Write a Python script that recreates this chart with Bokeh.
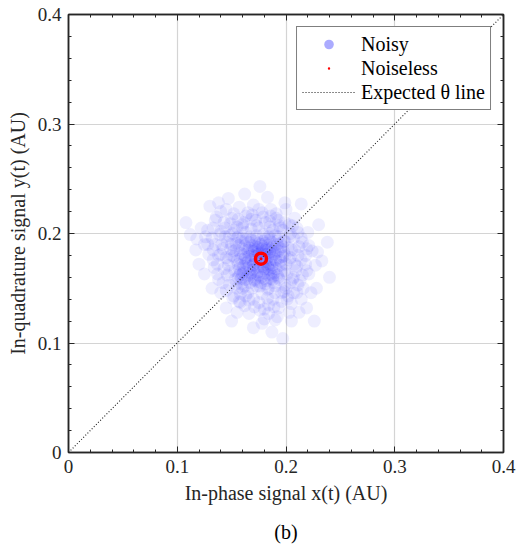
from bokeh.plotting import figure
from bokeh.models import (Range1d, FixedTicker, LinearAxis, Legend, LegendItem, Title)
from bokeh.embed import file_html
from bokeh.resources import INLINE

# ---- data ----
noisy_x = [0.177, 0.170, 0.184, 0.165, 0.190, 0.175, 0.181, 0.161, 0.194, 0.172,
           0.186, 0.168, 0.179, 0.163, 0.188, 0.174, 0.183, 0.158, 0.197, 0.171,
           0.180, 0.166, 0.192, 0.176, 0.160, 0.187, 0.169, 0.182, 0.173, 0.199,
           0.155, 0.185, 0.178, 0.164, 0.191, 0.170, 0.157, 0.195, 0.176, 0.162,
           0.189, 0.167, 0.183, 0.172, 0.153, 0.198, 0.179, 0.186, 0.159, 0.174,
           0.193, 0.165, 0.181, 0.169, 0.188, 0.156, 0.203, 0.177, 0.163, 0.184,
           0.171, 0.196, 0.150, 0.180, 0.167, 0.190, 0.158, 0.205, 0.174, 0.185,
           0.146, 0.152, 0.161, 0.173, 0.185, 0.197, 0.207, 0.211, 0.209, 0.204,
           0.196, 0.183, 0.170, 0.158, 0.148, 0.143, 0.140, 0.139, 0.150, 0.165,
           0.179, 0.193, 0.203, 0.215, 0.218, 0.213, 0.201, 0.189, 0.176, 0.162,
           0.151, 0.138, 0.133, 0.144, 0.157, 0.170, 0.186, 0.208, 0.220, 0.224,
           0.221, 0.210, 0.192, 0.180, 0.166, 0.145, 0.132, 0.128, 0.135, 0.199,
           0.155, 0.200, 0.147, 0.208, 0.160,
           0.122, 0.130, 0.147, 0.162, 0.183, 0.214, 0.230, 0.233, 0.228, 0.219,
           0.205, 0.187, 0.170, 0.150, 0.125, 0.117, 0.112, 0.238, 0.226, 0.197,
           0.140, 0.120, 0.240, 0.176, 0.108,
           0.175, 0.168, 0.182, 0.171, 0.186, 0.179, 0.164, 0.191, 0.160, 0.184,
           0.173, 0.187, 0.166, 0.178, 0.193, 0.162, 0.180, 0.169, 0.195, 0.176,
           0.183, 0.157, 0.189, 0.172, 0.167, 0.181, 0.198, 0.163, 0.185, 0.174,
           0.159, 0.192, 0.177, 0.170, 0.188, 0.165, 0.182, 0.154, 0.196, 0.173,
           0.180, 0.161, 0.190, 0.168, 0.184, 0.176, 0.158, 0.194, 0.171, 0.187,
           0.166, 0.179, 0.185, 0.162, 0.200, 0.174, 0.189, 0.156, 0.181, 0.169,
           0.193, 0.164, 0.178, 0.186, 0.172, 0.160, 0.197, 0.183, 0.167, 0.175,
           0.152, 0.190, 0.177, 0.163, 0.188, 0.171, 0.199, 0.158, 0.182, 0.169,
           0.185, 0.176, 0.154, 0.192, 0.166, 0.180, 0.173, 0.195, 0.161, 0.187,
           0.142, 0.148, 0.155, 0.168, 0.181, 0.194, 0.204, 0.212, 0.214, 0.207,
           0.199, 0.190, 0.178, 0.165, 0.154, 0.146, 0.137, 0.135, 0.143, 0.160,
           0.126, 0.133, 0.152, 0.175, 0.191, 0.210, 0.219, 0.216, 0.205, 0.184,
           0.157, 0.140, 0.129, 0.118, 0.138, 0.200, 0.227, 0.212, 0.178, 0.155,
           0.150, 0.145, 0.148, 0.155, 0.163, 0.175, 0.188, 0.198, 0.206, 0.210,
           0.208, 0.203, 0.195, 0.185, 0.172, 0.160, 0.151, 0.141, 0.137, 0.145,
           0.158, 0.171, 0.184, 0.196, 0.207, 0.215, 0.218, 0.214, 0.206, 0.191,
           0.178, 0.163, 0.149, 0.140, 0.133, 0.134, 0.142, 0.152, 0.166, 0.180,
           0.193, 0.202, 0.211, 0.219, 0.221, 0.211, 0.199, 0.186, 0.169, 0.156,
           0.144, 0.138, 0.147, 0.153, 0.162, 0.190, 0.201, 0.204, 0.199, 0.188,
           0.168, 0.156, 0.152, 0.159, 0.194, 0.202, 0.175, 0.157, 0.149, 0.183,
           0.128, 0.136, 0.145, 0.125, 0.132, 0.214, 0.203, 0.190, 0.223, 0.229]
noisy_y = [0.179, 0.172, 0.168, 0.185, 0.182, 0.162, 0.191, 0.170, 0.171, 0.188,
           0.176, 0.164, 0.170, 0.178, 0.161, 0.183, 0.185, 0.182, 0.179, 0.158,
           0.164, 0.192, 0.190, 0.174, 0.163, 0.169, 0.180, 0.157, 0.195, 0.166,
           0.175, 0.194, 0.186, 0.168, 0.175, 0.167, 0.189, 0.186, 0.152, 0.158,
           0.155, 0.197, 0.178, 0.176, 0.166, 0.193, 0.199, 0.163, 0.193, 0.169,
           0.160, 0.174, 0.172, 0.150, 0.188, 0.160, 0.176, 0.190, 0.201, 0.150,
           0.184, 0.171, 0.180, 0.181, 0.162, 0.198, 0.171, 0.185, 0.156, 0.183,
           0.192, 0.203, 0.210, 0.207, 0.206, 0.203, 0.196, 0.180, 0.166, 0.155,
           0.146, 0.141, 0.140, 0.145, 0.153, 0.168, 0.181, 0.199, 0.214, 0.219,
           0.215, 0.212, 0.208, 0.192, 0.172, 0.157, 0.140, 0.133, 0.130, 0.134,
           0.141, 0.158, 0.176, 0.205, 0.224, 0.226, 0.222, 0.214, 0.201, 0.184,
           0.163, 0.146, 0.124, 0.122, 0.127, 0.132, 0.150, 0.190, 0.212, 0.228,
           0.196, 0.150, 0.176, 0.172, 0.150,
           0.205, 0.225, 0.232, 0.236, 0.233, 0.227, 0.208, 0.175, 0.150, 0.132,
           0.120, 0.110, 0.114, 0.120, 0.163, 0.185, 0.199, 0.192, 0.120, 0.104,
           0.220, 0.172, 0.160, 0.243, 0.210,
           0.181, 0.176, 0.174, 0.193, 0.186, 0.166, 0.161, 0.168, 0.186, 0.197,
           0.163, 0.179, 0.170, 0.184, 0.184, 0.177, 0.159, 0.189, 0.175, 0.170,
           0.189, 0.168, 0.164, 0.179, 0.155, 0.195, 0.183, 0.194, 0.172, 0.187,
           0.159, 0.193, 0.160, 0.171, 0.158, 0.183, 0.181, 0.185, 0.164, 0.198,
           0.177, 0.165, 0.187, 0.194, 0.162, 0.176, 0.177, 0.178, 0.157, 0.192,
           0.179, 0.193, 0.167, 0.189, 0.172, 0.165, 0.181, 0.172, 0.154, 0.184,
           0.197, 0.158, 0.188, 0.159, 0.174, 0.196, 0.188, 0.170, 0.167, 0.191,
           0.179, 0.176, 0.155, 0.173, 0.171, 0.186, 0.180, 0.164, 0.186, 0.161,
           0.200, 0.182, 0.191, 0.162, 0.187, 0.168, 0.152, 0.191, 0.181, 0.183,
           0.186, 0.198, 0.206, 0.213, 0.210, 0.207, 0.200, 0.188, 0.176, 0.160,
           0.153, 0.146, 0.145, 0.146, 0.154, 0.162, 0.172, 0.190, 0.210, 0.205,
           0.197, 0.205, 0.218, 0.222, 0.218, 0.205, 0.186, 0.150, 0.136, 0.127,
           0.138, 0.146, 0.181, 0.195, 0.228, 0.222, 0.171, 0.128, 0.118, 0.128,
           0.190, 0.178, 0.165, 0.150, 0.143, 0.137, 0.140, 0.147, 0.158, 0.170,
           0.185, 0.197, 0.205, 0.211, 0.212, 0.208, 0.200, 0.190, 0.163, 0.148,
           0.137, 0.133, 0.135, 0.138, 0.146, 0.162, 0.180, 0.196, 0.207, 0.214,
           0.219, 0.216, 0.209, 0.202, 0.185, 0.169, 0.155, 0.143, 0.139, 0.131,
           0.132, 0.143, 0.153, 0.166, 0.189, 0.201, 0.210, 0.216, 0.217, 0.213,
           0.197, 0.180, 0.171, 0.158, 0.152, 0.152, 0.163, 0.178, 0.193, 0.203,
           0.204, 0.197, 0.184, 0.154, 0.158, 0.187, 0.205, 0.162, 0.186, 0.149,
           0.203, 0.215, 0.222, 0.190, 0.196, 0.140, 0.128, 0.121, 0.146, 0.183]
noiseless_x = [0.177]
noiseless_y = [0.177]
theta_line_x = [0.0, 0.4]
theta_line_y = [0.0, 0.4]
ticks = [0.0, 0.1, 0.2, 0.3, 0.4]
tick_labels = ["0", "0.1", "0.2", "0.3", "0.4"]
minor_ticks = [0.02, 0.04, 0.06, 0.08, 0.12, 0.14, 0.16, 0.18, 0.22, 0.24, 0.26, 0.28,
               0.32, 0.34, 0.36, 0.38]

FONT = "Liberation Serif"
INK = "#262626"

p = figure(width=517, height=555, output_backend="svg", toolbar_location=None,
           x_range=Range1d(0, 0.4), y_range=Range1d(0, 0.4),
           min_border_left=68, min_border_right=14, min_border_top=14, min_border_bottom=10,
           x_axis_label="In-phase signal x(t) (AU)",
           y_axis_label="In-quadrature signal y(t) (AU)")
p.background_fill_color = "white"
p.border_fill_color = "white"
p.outline_line_color = INK
p.outline_line_width = 1.5

overrides = {t: l for t, l in zip(ticks, tick_labels)}
for ax in (p.xaxis[0], p.yaxis[0]):
    ax.ticker = FixedTicker(ticks=ticks, minor_ticks=minor_ticks)
    ax.major_label_overrides = overrides
    ax.major_tick_in = 6
    ax.major_tick_out = 0
    ax.minor_tick_in = 3
    ax.minor_tick_out = 0
    ax.major_tick_line_color = INK
    ax.minor_tick_line_color = INK
    ax.axis_line_color = INK
    ax.axis_line_width = 1.5
    ax.major_label_text_font = FONT
    ax.major_label_text_font_size = "19px"
    ax.major_label_text_color = INK
    ax.axis_label_text_font = FONT
    ax.axis_label_text_font_size = "20px"
    ax.axis_label_text_font_style = "normal"
    ax.axis_label_text_color = INK
    ax.major_label_standoff = 7
    ax.axis_label_standoff = 6

blank = {t: "" for t in ticks}
for side in ("above", "right"):
    ax = LinearAxis(ticker=FixedTicker(ticks=ticks, minor_ticks=minor_ticks),
                    major_label_overrides=blank,
                    major_tick_in=6, major_tick_out=0, minor_tick_in=3, minor_tick_out=0,
                    major_tick_line_color=INK, minor_tick_line_color=INK,
                    axis_line_color=INK, axis_line_width=1.5,
                    major_label_text_font=FONT, major_label_text_font_size="19px",
                    major_label_standoff=-30)
    p.add_layout(ax, side)

p.grid.ticker = FixedTicker(ticks=ticks)
p.grid.grid_line_color = "#d4d4d4"
p.grid.grid_line_width = 1.2

# noisy cloud
p.scatter(noisy_x, noisy_y, marker="circle", size=13, fill_color="#0000ff",
          fill_alpha=0.065, line_color=None)
# expected theta line
r_line = p.line(theta_line_x, theta_line_y, line_color="#1a1a1a", line_width=1.1,
                line_dash="1 2")
# noiseless point
p.scatter(noiseless_x, noiseless_y, marker="circle", size=11, fill_color=None,
          line_color="red", line_width=3.5)
p.scatter(noiseless_x, noiseless_y, marker="circle", size=3, fill_color="red",
          line_color=None)

# legend proxies (zero size in the plot; legend draws them at its own size)
r_noisy = p.scatter(noiseless_x, noiseless_y, marker="circle", size=0,
                    fill_color="#0000ff", fill_alpha=0.33, line_color=None)
r_noiseless = p.scatter(noiseless_x, noiseless_y, marker="dot", size=0,
                        line_color="red", fill_color="red", line_width=1.5)

legend = Legend(items=[LegendItem(label="Noisy", renderers=[r_noisy]),
                       LegendItem(label="Noiseless", renderers=[r_noiseless]),
                       LegendItem(label="Expected θ line", renderers=[r_line])],
                location="top_right", margin=12,
                label_text_font=FONT, label_text_font_size="20px", label_text_color="#000000",
                glyph_width=53, glyph_height=24, label_height=20, spacing=0,
                padding=5, label_standoff=6,
                border_line_color="#000000", border_line_width=1.5,
                background_fill_color="white", background_fill_alpha=1.0)
p.add_layout(legend)

cap = Title(text="(b)", align="center", text_font=FONT, text_font_size="20px",
            text_font_style="normal", text_color="#000000", standoff=25)
p.add_layout(cap, "below")

open("out.html", "w").write(file_html(p, INLINE))
